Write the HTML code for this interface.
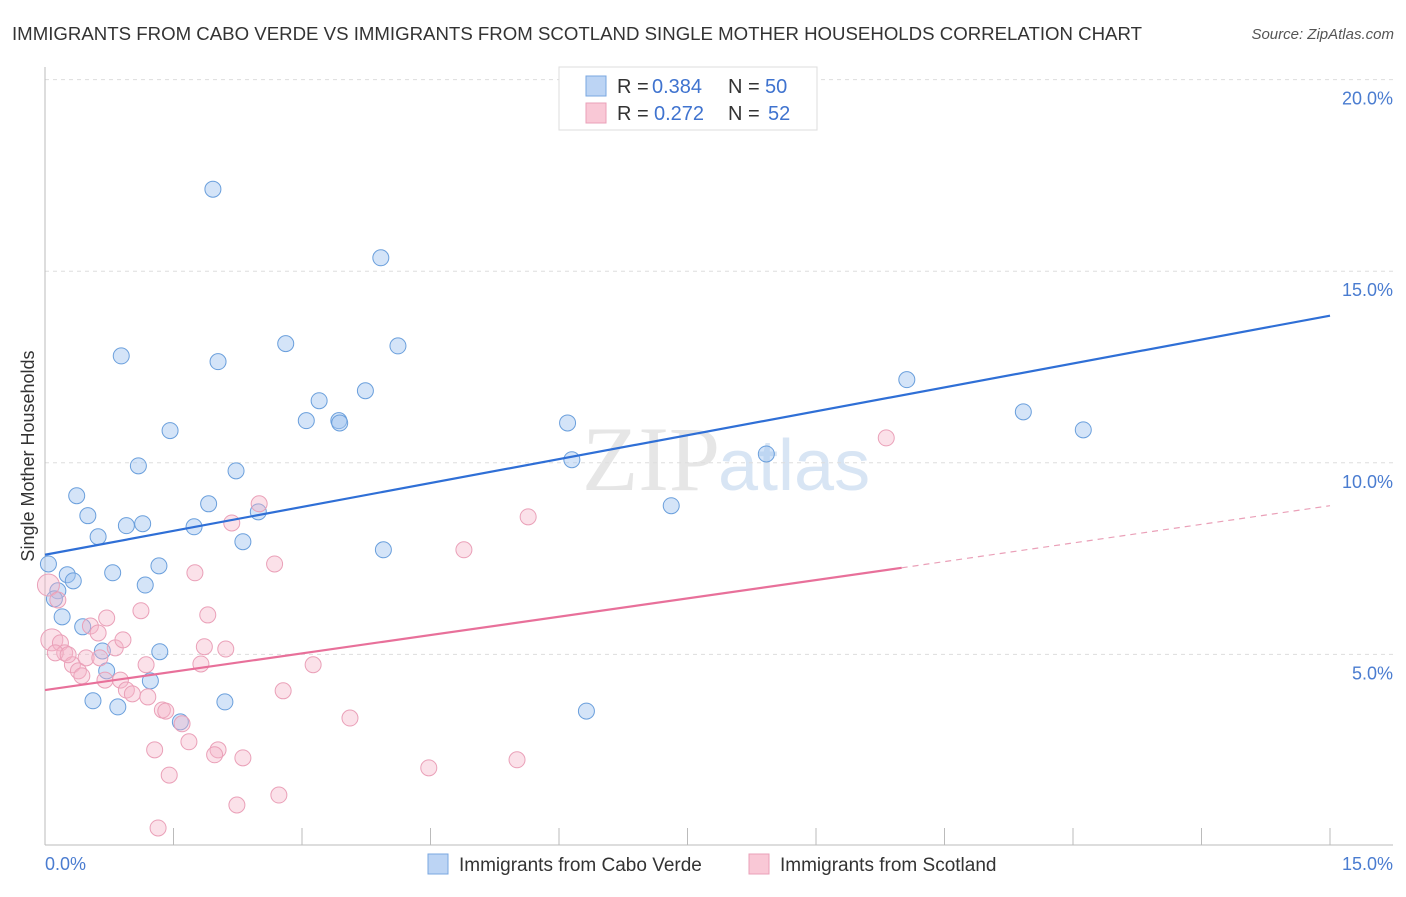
<!DOCTYPE html>
<html><head><meta charset="utf-8"><style>
body{margin:0;background:#fff;font-family:"Liberation Sans",sans-serif;}
</style></head><body>
<svg id="chart" width="1406" height="892" xmlns="http://www.w3.org/2000/svg">
<text x="12" y="40" font-size="18" fill="#333" textLength="1130" lengthAdjust="spacingAndGlyphs">IMMIGRANTS FROM CABO VERDE VS IMMIGRANTS FROM SCOTLAND SINGLE MOTHER HOUSEHOLDS CORRELATION CHART</text>
<text x="1394" y="39" font-size="15" fill="#555" font-style="italic" text-anchor="end">Source: ZipAtlas.com</text>
<text x="720" y="490" font-size="92" fill="#e6e6e6" text-anchor="end" font-family="Liberation Serif,serif">ZIP</text>
<text x="718" y="490" font-size="72" fill="#d8e5f4">atlas</text>
<g id="grid"></g><g id="axes"></g><g id="pts"></g><g id="lines"></g>
<text transform="translate(34,456) rotate(-90)" font-size="18" fill="#333" text-anchor="middle">Single Mother Households</text>
<text x="45" y="870" font-size="18" fill="#4a7cd0">0.0%</text>
<text x="1393" y="870" font-size="18" fill="#4a7cd0" text-anchor="end">15.0%</text>
<g>
<rect x="559" y="67" width="258" height="63" fill="#fff" stroke="#ddd"/>
<rect x="586" y="76" width="20" height="20" fill="#bcd4f4" stroke="#7aa7e0"/>
<rect x="586" y="103" width="20" height="20" fill="#f9c8d6" stroke="#eaa0b8"/>
<text x="617" y="93" font-size="20" fill="#333">R =</text>
<text x="652" y="93" font-size="20" fill="#3f73cf">0.384</text>
<text x="728" y="93" font-size="20" fill="#333">N =</text>
<text x="765" y="93" font-size="20" fill="#3f73cf">50</text>
<text x="617" y="120" font-size="20" fill="#333">R =</text>
<text x="654" y="120" font-size="20" fill="#3f73cf">0.272</text>
<text x="728" y="120" font-size="20" fill="#333">N =</text>
<text x="768" y="120" font-size="20" fill="#3f73cf">52</text>
</g>
<g>
<rect x="428" y="854" width="20" height="20" fill="#bcd4f4" stroke="#7aa7e0"/>
<text x="459" y="871" font-size="19" fill="#333">Immigrants from Cabo Verde</text>
<rect x="749" y="854" width="20" height="20" fill="#f9c8d6" stroke="#eaa0b8"/>
<text x="780" y="871" font-size="19" fill="#333">Immigrants from Scotland</text>
</g>
</svg>
<script>
const yTicks=[5,10,15,20];
const xTicks=[0,1.5,3,4.5,6,7.5,9,10.5,12,13.5,15];
const blueX=[1.96,3.92,0.89,2.02,2.81,4.12,3.74,3.20,3.05,3.43,3.44,1.46,6.10,6.15,1.09,2.23,0.37,1.91,2.49,0.50,0.95,1.14,1.74,0.62,2.31,3.95,0.04,1.33,0.26,0.79,0.33,1.17,0.15,0.11,0.20,0.44,1.34,0.67,0.72,1.23,0.56,2.10,0.85,6.32,1.58,7.31,8.42,10.06,11.42,12.12];
const blueY=[17.14,15.35,12.79,12.64,13.11,13.05,11.88,11.62,11.10,11.10,11.04,10.84,11.04,10.08,9.92,9.79,9.14,8.93,8.72,8.62,8.36,8.41,8.33,8.07,7.94,7.73,7.36,7.31,7.08,7.13,6.92,6.81,6.66,6.45,5.98,5.72,5.07,5.09,4.57,4.31,3.79,3.76,3.63,3.52,3.24,8.88,10.23,12.17,11.33,10.86];
const pinkX=[0.04,0.08,0.15,0.18,0.23,0.12,0.32,0.39,0.43,0.53,0.62,0.72,0.82,0.70,0.88,0.95,1.02,1.12,1.18,1.20,1.37,1.41,1.60,1.68,1.75,1.86,1.82,1.90,2.11,2.02,1.98,2.18,2.50,2.68,2.78,3.13,3.56,1.28,1.45,1.32,2.24,2.31,2.73,4.48,4.89,5.64,5.51,9.82,0.48,0.91,0.64,0.27];
const pinkY=[6.81,5.38,6.42,5.30,5.04,5.04,4.73,4.57,4.44,5.74,5.56,5.95,5.17,4.33,4.33,4.07,3.97,6.14,4.73,3.89,3.55,3.52,3.19,2.72,7.13,5.20,4.75,6.03,5.14,2.51,2.38,8.43,8.93,7.36,4.05,4.73,3.34,2.51,1.85,0.47,1.07,2.30,1.33,2.04,7.73,8.59,2.25,10.65,4.91,5.38,4.91,4.99];
const blueLine=[7.6,13.84];
const pinkLine=[4.07,7.26,8.88];
const X=v=>45+v*85.667, Y=v=>846-v*38.32;
const NS='http://www.w3.org/2000/svg';
function mk(tag,at,parent){const e=document.createElementNS(NS,tag);for(const k in at)e.setAttribute(k,at[k]);document.getElementById(parent).appendChild(e);return e;}
yTicks.forEach(t=>{
 const l=mk('line',{x1:45,x2:1393,y1:Y(t),y2:Y(t),stroke:'#ddd','stroke-dasharray':'4,4'},'grid');
 
 
 const tx=mk('text',{x:1393,y:Y(t)+25,'font-size':18,fill:'#4a7cd0','text-anchor':'end'},'grid');
 tx.textContent=t.toFixed(1)+'%';
 
 
});
const ax=mk('line',{x1:45,x2:1393,y1:845,y2:845,stroke:'#bbb'},'axes');


const ay=mk('line',{x1:45,x2:45,y1:67,y2:845,stroke:'#bbb'},'axes');


xTicks.forEach(t=>{
 const l=mk('line',{x1:X(t),x2:X(t),y1:828,y2:845,stroke:'#bbb'},'axes');
 
 
});
blueX.forEach((v,i)=>{
 const c=mk('circle',{cx:X(v),cy:Y(blueY[i]),r:8,fill:'rgba(160,196,240,0.45)',stroke:'#6a9fdc','stroke-width':1},'pts');
 
 
});
pinkX.forEach((v,i)=>{
 const c=mk('circle',{cx:X(v),cy:Y(pinkY[i]),r:i<2?11:8,fill:'rgba(245,180,200,0.4)',stroke:'#eaa0b8','stroke-width':1},'pts');
 
 
});
const bl=mk('line',{x1:X(0),y1:Y(blueLine[0]),x2:X(15),y2:Y(blueLine[1]),stroke:'#2f6fd6','stroke-width':2.2},'lines');


const pl=mk('line',{x1:X(0),y1:Y(pinkLine[0]),x2:X(10),y2:Y(pinkLine[1]),stroke:'#e8709a','stroke-width':2.2},'lines');


const pd=mk('line',{x1:X(10),y1:Y(pinkLine[1]),x2:X(15),y2:Y(pinkLine[2]),stroke:'#eaa0b8','stroke-width':1.2,'stroke-dasharray':'6,5'},'lines');


</script>
</body></html>
